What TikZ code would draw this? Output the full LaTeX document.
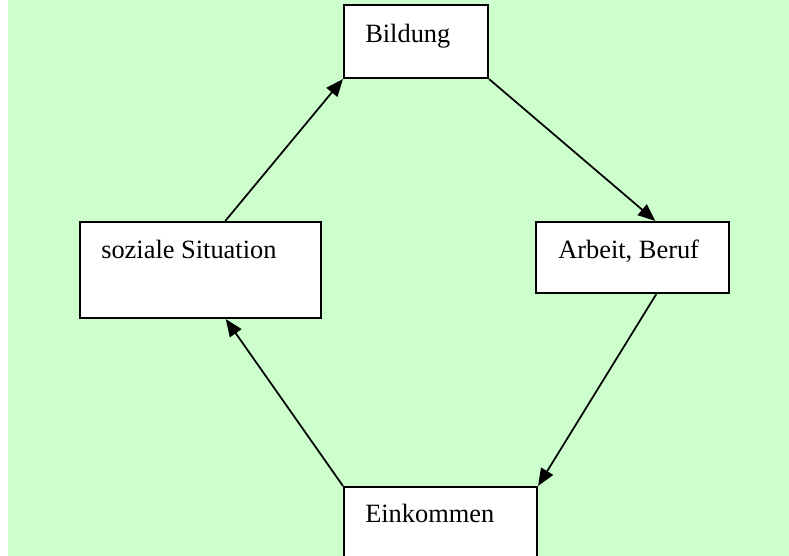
\documentclass[tikz,border=0pt]{standalone}
\usepackage{fontspec}
\setmainfont{Liberation Serif}
\usetikzlibrary{arrows.meta,calc}
\definecolor{bggreen}{HTML}{CCFFCC}
\begin{document}
\begin{tikzpicture}[x=0.75pt,y=-0.75pt,
  box/.style={draw=black,line width=1.6pt,fill=white,rectangle,inner sep=0pt},
  lbl/.style={anchor=base west,inner sep=0pt,font=\fontsize{19.8}{24}\selectfont},
  conn/.style={draw=black,line width=1.3pt,-{Triangle[length=13pt,width=10.5pt]}}]
\useasboundingbox (0,0) rectangle (789,556);
\clip (0,0) rectangle (789,556);
\fill[bggreen] (8,0) rectangle (789,556);
\node[box,minimum width=144*0.75pt,minimum height=73*0.75pt] (bil) at (416,41.5) {};
\node[box,minimum width=193*0.75pt,minimum height=71*0.75pt] (arb) at (632.5,257.5) {};
\node[box,minimum width=241*0.75pt,minimum height=96*0.75pt] (soz) at (200.5,270) {};
\node[box,minimum width=193*0.75pt,minimum height=90*0.75pt] (ein) at (440.5,532) {};
\node[lbl] (tbil) at (365,43) {Bildung};
\node[lbl] (tarb) at (558,258) {Arbeit, Beruf};
\node[lbl] (tsoz) at (101,258) {soziale Situation};
\node[lbl] (tein) at (365,522) {Einkommen};
\draw[conn] ($(soz.north west)!0.602!(soz.north east)$) -- (bil.south west);
\draw[conn] (bil.south east) -- ($(arb.north west)!0.617!(arb.north east)$);
\draw[conn] ($(arb.south west)!0.622!(arb.south east)$) -- (ein.north east);
\draw[conn] (ein.north west) -- ($(soz.south west)!0.604!(soz.south east)$);
\end{tikzpicture}
\end{document}
